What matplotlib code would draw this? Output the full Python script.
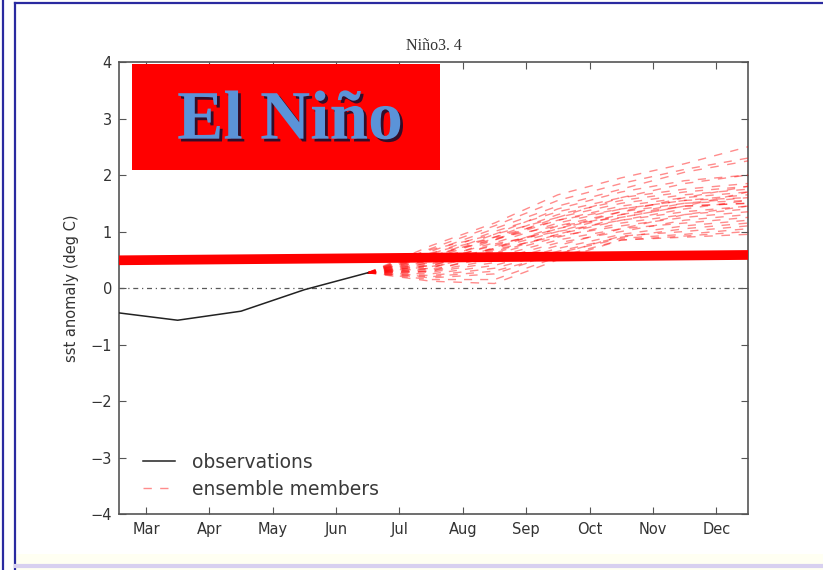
import matplotlib
matplotlib.use("Agg")
import matplotlib.pyplot as plt
import matplotlib.patheffects as pe
from matplotlib.lines import Line2D
from matplotlib.patches import Rectangle

# month axis: 3 = 1 Mar, 4 = 1 Apr, ... values sit at mid-month
tick_months = [3, 4, 5, 6, 7, 8, 9, 10, 11, 12]
tick_labels = ["Mar", "Apr", "May", "Jun", "Jul", "Aug", "Sep", "Oct", "Nov", "Dec"]

# observed Nino3.4 sst anomaly (mid-Feb .. mid-Jun)
obs_month = [2.5, 3.5, 4.5, 5.5, 6.5]
obs_anom = [-0.43, -0.57, -0.41, -0.03, 0.27]

# ensemble forecasts start from last observation, then mid-Jul .. mid-Dec
ens_month = [6.5, 7.5, 8.5, 9.5, 10.5, 11.5, 12.5]
ens_start = 0.27
ens_members = [
    [0.75, 1.15, 1.65, 1.95, 2.20, 2.50],
    [0.70, 1.10, 1.55, 1.85, 2.10, 2.30],
    [0.65, 1.05, 1.45, 1.75, 2.05, 2.25],
    [0.68, 0.95, 1.40, 1.70, 1.90, 2.00],
    [0.60, 1.00, 1.35, 1.60, 1.75, 1.85],
    [0.62, 0.90, 1.30, 1.55, 1.70, 1.80],
    [0.55, 0.95, 1.25, 1.50, 1.65, 1.75],
    [0.58, 0.85, 1.20, 1.45, 1.60, 1.70],
    [0.50, 0.80, 1.15, 1.40, 1.55, 1.65],
    [0.52, 0.88, 1.10, 1.35, 1.50, 1.60],
    [0.48, 0.75, 1.05, 1.30, 1.50, 1.55],
    [0.45, 0.70, 1.10, 1.25, 1.45, 1.50],
    [0.42, 0.78, 1.00, 1.20, 1.35, 1.45],
    [0.40, 0.65, 0.95, 1.20, 1.40, 1.55],
    [0.38, 0.60, 0.90, 1.15, 1.30, 1.40],
    [0.35, 0.68, 0.92, 1.10, 1.25, 1.35],
    [0.33, 0.55, 0.85, 1.05, 1.30, 1.45],
    [0.30, 0.50, 0.80, 1.00, 1.20, 1.30],
    [0.28, 0.45, 0.75, 1.05, 1.15, 1.25],
    [0.25, 0.40, 0.70, 0.95, 1.10, 1.20],
    [0.22, 0.35, 0.65, 0.90, 1.05, 1.15],
    [0.20, 0.30, 0.60, 0.92, 1.00, 1.10],
    [0.18, 0.25, 0.62, 0.88, 0.95, 1.05],
    [0.15, 0.15, 0.55, 0.85, 0.92, 1.00],
    [0.12, 0.08, 0.50, 0.85, 0.90, 0.95],
    [0.45, 0.85, 1.25, 1.60, 1.85, 2.00],
    [0.35, 0.72, 1.05, 1.35, 1.60, 1.80],
    [0.30, 0.62, 0.95, 1.25, 1.45, 1.70],
    [0.55, 0.90, 1.20, 1.40, 1.55, 1.60],
    [0.40, 0.70, 1.00, 1.30, 1.45, 1.50],
]

# hand-drawn El Nino threshold bar (left / right end)
thresh_month = [2.5, 12.5]
thresh_anom = [0.49, 0.585]

# dash lengths vary slightly so the pattern lines up only near the start
dash_len = [6.0, 5.85, 6.15, 5.9, 6.1, 5.8, 6.2, 5.95, 6.05]

fig = plt.figure(figsize=(8.23, 5.70), dpi=100)
fig.patch.set_facecolor("white")
ax = fig.add_axes([0.1446, 0.0982, 0.7643, 0.793])

# zero line
ax.axhline(0, color="0.35", lw=0.9, ls=(0, (4, 3, 1, 3)))

ax.plot(thresh_month, thresh_anom, color="#ff0000", lw=7, solid_capstyle="butt", zorder=4)

for i, m in enumerate(ens_members):
    d = dash_len[i % len(dash_len)]
    ax.plot(ens_month, [ens_start] + m, color="red", lw=1, ls=(0, (d, d)), alpha=0.45,
            label="ensemble members" if i == 0 else None, zorder=3)

ax.plot(obs_month, obs_anom, color="#222222", lw=1.1, label="observations", zorder=5)

ax.set_xlim(2.575, 12.5)
ax.set_ylim(-4, 4)
ax.set_xticks(tick_months)
ax.set_xticklabels(tick_labels)
ax.set_yticks(range(-4, 5))
ax.tick_params(direction="in", length=5, width=0.8, colors="#555555", labelcolor="#333333",
               labelsize=10.5, top=True, right=True)
ax.tick_params(axis="x", pad=6)
ax.tick_params(axis="y", pad=5)
for s in ax.spines.values():
    s.set_color("#555555")
    s.set_linewidth(1.2)

ax.set_ylabel("sst anomaly (deg C)", fontsize=10.5, color="#333333", labelpad=8)
ax.set_title("Niño3. 4", fontsize=11.5, family="Liberation Serif", color="#333333", pad=9)

# legend: observations first
h, l = ax.get_legend_handles_labels()
order = [l.index("observations"), l.index("ensemble members")]
leg = ax.legend([h[k] for k in order], [l[k] for k in order], loc="lower left",
                frameon=False, fontsize=13.5, handlelength=1.7, handletextpad=0.9,
                labelspacing=0.45, borderaxespad=0.4, bbox_to_anchor=(0.015, 0.0))
for t in leg.get_texts():
    t.set_color("#3a3a3a")

# El Nino banner
ax.add_patch(Rectangle((0.021, 0.761), 0.489, 0.235, transform=ax.transAxes,
                       facecolor="#ff0000", edgecolor="none", zorder=6))
ax.text(0.272, 0.868, "El Niño", transform=ax.transAxes, ha="center", va="center",
        fontsize=50, fontweight="bold", family="Liberation Serif", color="#5b93d8", zorder=7,
        path_effects=[pe.SimplePatchShadow(offset=(2, -2), shadow_rgbFace="#101030", alpha=0.85),
                      pe.Normal()])

# slide frame around the picture
blue = "#2a2aa0"
fig.add_artist(Line2D([0.004, 0.004], [0, 1], transform=fig.transFigure, color=blue, lw=1.6))
fig.add_artist(Line2D([0.018, 0.018], [0, 0.995], transform=fig.transFigure, color=blue, lw=1.6))
fig.add_artist(Line2D([0.018, 1], [0.995, 0.995], transform=fig.transFigure, color=blue, lw=1.6))
fig.add_artist(Rectangle((0.02, 0.0), 0.98, 0.028, transform=fig.transFigure,
                         facecolor="#fffff2", edgecolor="none", zorder=-1))
fig.add_artist(Line2D([0.02, 1], [0.007, 0.007], transform=fig.transFigure, color="#d8d0f0", lw=3))

fig.savefig("out.png", dpi=100)
